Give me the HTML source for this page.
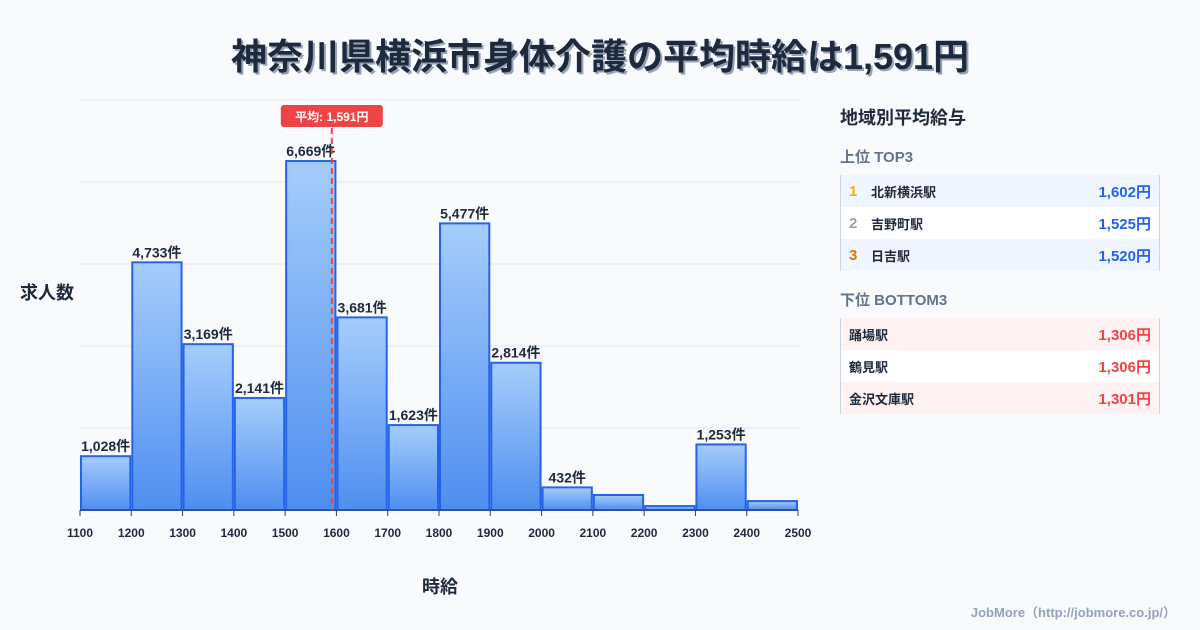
<!DOCTYPE html>
<html><head><meta charset="utf-8"><style>
body{margin:0;width:1200px;height:630px;background:#f8fafc;font-family:"Liberation Sans","Noto Sans CJK JP",sans-serif;overflow:hidden;position:relative}
.t{position:absolute;left:0;width:1200px;top:28px;text-align:center;font-size:36px;font-weight:bold;color:#1e293b;text-shadow:2px 2px 0 #94a3b8}
.panel{position:absolute;left:840px;top:100px;width:320px}
.ph{font-size:18px;font-weight:bold;color:#1e293b;margin:4px 0 0 0}
.sh{font-size:15px;font-weight:bold;color:#64748b;margin:18px 0 8px}
.tbl{border-left:1px solid #cbd5e1;border-right:1px solid #cbd5e1}
.row{height:32px;display:flex;align-items:center;font-size:13px;font-weight:bold;color:#1e293b;padding:0 8px}
.row .v{margin-left:auto;font-size:15px}
.rk{width:22px;font-size:15px}
.ft{position:absolute;right:24px;top:602px;font-size:13px;font-weight:bold;color:#94a3b8}
</style></head><body>
<div class="t">神奈川県横浜市身体介護の平均時給は1,591円</div>
<svg id="ch" width="830" height="630" style="position:absolute;left:0;top:0"></svg>
<div class="panel">
<div class="ph">地域別平均給与</div>
<div class="sh" style="margin-top:16px">上位 TOP3</div>
<div class="tbl">
<div class="row" style="background:#eff6ff"><span class="rk" style="color:#eab308">1</span>北新横浜駅<span class="v" style="color:#2563eb">1,602円</span></div>
<div class="row" style="background:#fff"><span class="rk" style="color:#94a3b8">2</span>吉野町駅<span class="v" style="color:#2563eb">1,525円</span></div>
<div class="row" style="background:#eff6ff"><span class="rk" style="color:#d97706">3</span>日吉駅<span class="v" style="color:#2563eb">1,520円</span></div>
</div>
<div class="sh">下位 BOTTOM3</div>
<div class="tbl">
<div class="row" style="background:#fef2f2">踊場駅<span class="v" style="color:#ef4444">1,306円</span></div>
<div class="row" style="background:#fff">鶴見駅<span class="v" style="color:#ef4444">1,306円</span></div>
<div class="row" style="background:#fef2f2">金沢文庫駅<span class="v" style="color:#ef4444">1,301円</span></div>
</div></div>
<div class="ft">JobMore（http://jobmore.co.jp/）</div>
<script>
const binStarts=[1100,1200,1300,1400,1500,1600,1700,1800,1900,2000,2100,2200,2300,2400];
const counts=[1028,4733,3169,2141,6669,3681,1623,5477,2814,432,287,75,1253,170];
const showLabel=[true,true,true,true,true,true,true,true,true,true,false,false,true,false];
const xTicks=[1100,1200,1300,1400,1500,1600,1700,1800,1900,2000,2100,2200,2300,2400,2500];
const meanValue=1591;
const NS="http://www.w3.org/2000/svg",svg=document.getElementById('ch');
const x0=80,x1=798,yb=510,yt=100,xmin=1100,xmax=2500,ymax=7835;
const X=v=>x0+(v-xmin)/(xmax-xmin)*(x1-x0), Y=v=>yb-v/ymax*(yb-yt);
function el(t,a,p){const e=document.createElementNS(NS,t);for(const k in a)e.setAttribute(k,a[k]);(p||svg).appendChild(e);return e;}
const defs=el('defs',{});const g=el('linearGradient',{id:'bg',x1:0,y1:0,x2:0,y2:1},defs);
el('stop',{offset:0,'stop-color':'#a5cdfb'},g);el('stop',{offset:1,'stop-color':'#4f8ef0'},g);
for(let i=0;i<=5;i++){const l=el('line',{x1:x0,x2:800,y1:yt+i*(yb-yt)/5,y2:yt+i*(yb-yt)/5,stroke:'#e2e8f0','stroke-width':1});

}
binStarts.forEach((b,i)=>{const xa=X(b)+1,xb=X(b+100)-1,y=Y(counts[i]);
const r=el('rect',{x:xa,y:y,width:xb-xa,height:yb-y,fill:'url(#bg)',stroke:'#2563eb','stroke-width':2});


if(showLabel[i]){const t=el('text',{x:(xa+xb)/2,y:y-5,'text-anchor':'middle','font-size':14,'font-weight':'bold',fill:'#1e293b'});t.textContent=counts[i].toLocaleString('en-US')+'件';

}});
el('line',{x1:x0,x2:x1,y1:yb,y2:yb,stroke:'#334155','stroke-width':1});
xTicks.forEach(v=>{el('line',{x1:X(v),x2:X(v),y1:yb,y2:yb+6,stroke:'#334155'});
const t=el('text',{x:X(v),y:537,'text-anchor':'middle','font-size':12,'font-weight':'bold',fill:'#1e293b'});t.textContent=v;

});
const mx=X(meanValue);
el('line',{x1:mx,x2:mx,y1:128,y2:yb,stroke:'#ef4444','stroke-width':2,'stroke-dasharray':'6,4'});
const mr=el('rect',{x:mx-51,y:105,width:102,height:22,rx:3,fill:'#ef4444'});


const mt=el('text',{x:mx,y:121,'text-anchor':'middle','font-size':12,'font-weight':'bold',fill:'#fff'});mt.textContent='平均: '+meanValue.toLocaleString('en-US')+'円';


const yl=el('text',{x:20,y:299,'font-size':18,'font-weight':'bold',fill:'#1e293b'});yl.textContent='求人数';


const xl=el('text',{x:440,y:593,'text-anchor':'middle','font-size':18,'font-weight':'bold',fill:'#1e293b'});xl.textContent='時給';


</script>
</body></html>
